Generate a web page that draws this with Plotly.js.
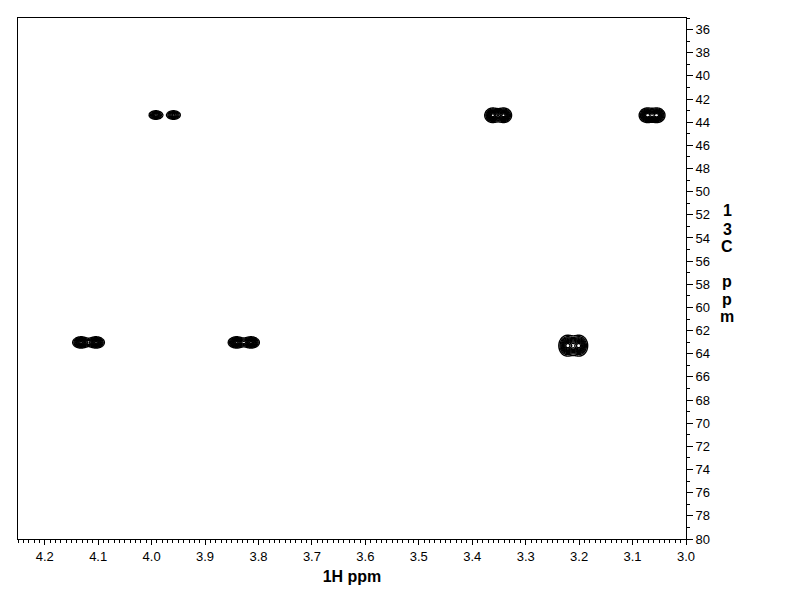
<!DOCTYPE html>
<html><head><meta charset="utf-8">
<script src="https://cdn.plot.ly/plotly-3.0.1.min.js"></script>
<style>html,body{margin:0;padding:0;background:#fff}</style>
</head><body><div id="chart" style="width:792px;height:612px"></div>
<script>
// Tick labels
const xTickVals = [4.2, 4.1, 4.0, 3.9, 3.8, 3.7, 3.6, 3.5, 3.4, 3.3, 3.2, 3.1, 3.0];
const xTickText = ['4.2','4.1','4.0','3.9','3.8','3.7','3.6','3.5','3.4','3.3','3.2','3.1','3.0'];
const yTickVals = [36,38,40,42,44,46,48,50,52,54,56,58,60,62,64,66,68,70,72,74,76,78,80];
const yTickText = ['36','38','40','42','44','46','48','50','52','54','56','58','60','62','64','66','68','70','72','74','76','78','80'];

// Cross peaks (each cross peak = two lobes)
const peakGroup = [0, 0, 1, 1, 2, 2, 3, 3, 4, 4, 5, 5];
const peakH     = [3.992, 3.959, 3.362, 3.341, 3.073, 3.054, 4.132, 4.104, 3.841, 3.814, 3.222, 3.200];   // 1H ppm
const peakC     = [43.38, 43.38, 43.40, 43.40, 43.40, 43.40, 63.02, 63.02, 63.02, 63.02, 63.30, 63.30]; // 13C ppm
const peakAmp   = [0.7, 0.7, 1, 1, 1, 1, 1, 1, 1, 1, 1, 1];
const sigmaH    = [0.0072, 0.0072, 0.0075, 0.0075, 0.0075, 0.0075, 0.0080, 0.0080, 0.0080, 0.0080, 0.0082, 0.0082];
const sigmaC    = [0.21, 0.21, 0.32, 0.32, 0.32, 0.32, 0.25, 0.25, 0.25, 0.25, 0.46, 0.46];

const FONT = 'Liberation Sans, Arial, sans-serif';

function buildGroup(g) {
  const idx = peakGroup.map((v, i) => v === g ? i : -1).filter(i => i >= 0);
  const hs = idx.map(i => peakH[i]), cs = idx.map(i => peakC[i]);
  const x0 = Math.min(...hs) - 0.04, x1 = Math.max(...hs) + 0.04;
  const y0 = Math.min(...cs) - 2.0, y1 = Math.max(...cs) + 2.0;
  const xs = [], ys = [];
  for (let x = x0; x <= x1; x += 0.0008) xs.push(x);
  for (let y = y0; y <= y1; y += 0.03) ys.push(y);
  const z = ys.map(y => xs.map(x => {
    let s = 0;
    idx.forEach(i => {
      const dx = (x - peakH[i]) / sigmaH[i], dy = (y - peakC[i]) / sigmaC[i];
      s += peakAmp[i] * Math.exp(-0.5 * (dx * dx + dy * dy));
    });
    return s;
  }));
  return {
    type: 'contour', x: xs, y: ys, z: z,
    autocontour: false,
    contours: {coloring: 'lines', start: 0.15, end: 1.0, size: 0.1, showlabels: false},
    colorscale: [[0, '#000'], [1, '#000']],
    line: {width: 1.4, smoothing: 1},
    showscale: false, hoverinfo: 'skip'
  };
}

const groups = [...new Set(peakGroup)];
const traces = groups.map(buildGroup);

const W = 792, H = 612, L = 18, R = 106, T = 18, B = 73;
const plotH = H - T - B;
function py(pix) { return (H - B - pix) / plotH; }

const titleChars = ['1', '3', 'C', 'p', 'p', 'm'];
const titleCharPix = [211, 229, 246, 281, 299, 317];
const annotations = titleChars.map((c, i) => ({
  text: c, xref: 'paper', yref: 'paper', x: (727 - L) / (W - L - R), y: py(titleCharPix[i]),
  xanchor: 'center', yanchor: 'middle', showarrow: false,
  font: {family: FONT, size: 16, color: '#000', weight: 'bold'}
}));

const layout = {
  width: W, height: H,
  margin: {l: L, r: R, t: T, b: B, pad: 0},
  paper_bgcolor: '#fff', plot_bgcolor: '#fff',
  showlegend: false,
  font: {family: FONT, size: 13, color: '#000'},
  xaxis: {
    range: [4.25, 3.0], showgrid: false, zeroline: false,
    showline: true, mirror: true, linecolor: '#000', linewidth: 1,
    tickmode: 'array', tickvals: xTickVals, ticktext: xTickText,
    ticks: 'outside', ticklen: 5, tickcolor: '#000', tickwidth: 1,
    minor: {dtick: 0.01, tick0: 3.0, ticks: 'outside', ticklen: 3, tickcolor: '#000', showgrid: false},
    tickfont: {family: FONT, size: 13, color: '#000'},
    title: {text: '1H ppm', font: {family: FONT, size: 16, color: '#000', weight: 'bold'}, standoff: 8}
  },
  yaxis: {
    range: [80, 35], side: 'right', showgrid: false, zeroline: false,
    showline: true, mirror: true, linecolor: '#000', linewidth: 1,
    tickmode: 'array', tickvals: yTickVals, ticktext: yTickText,
    ticks: 'outside', ticklen: 6, tickcolor: '#000', tickwidth: 1,
    minor: {dtick: 1, tick0: 35, ticks: 'outside', ticklen: 3, tickcolor: '#000', showgrid: false},
    tickfont: {family: FONT, size: 13, color: '#000'}
  },
  annotations: annotations
};

Plotly.newPlot('chart', traces, layout, {displayModeBar: false, staticPlot: true});
</script>
</body></html>
